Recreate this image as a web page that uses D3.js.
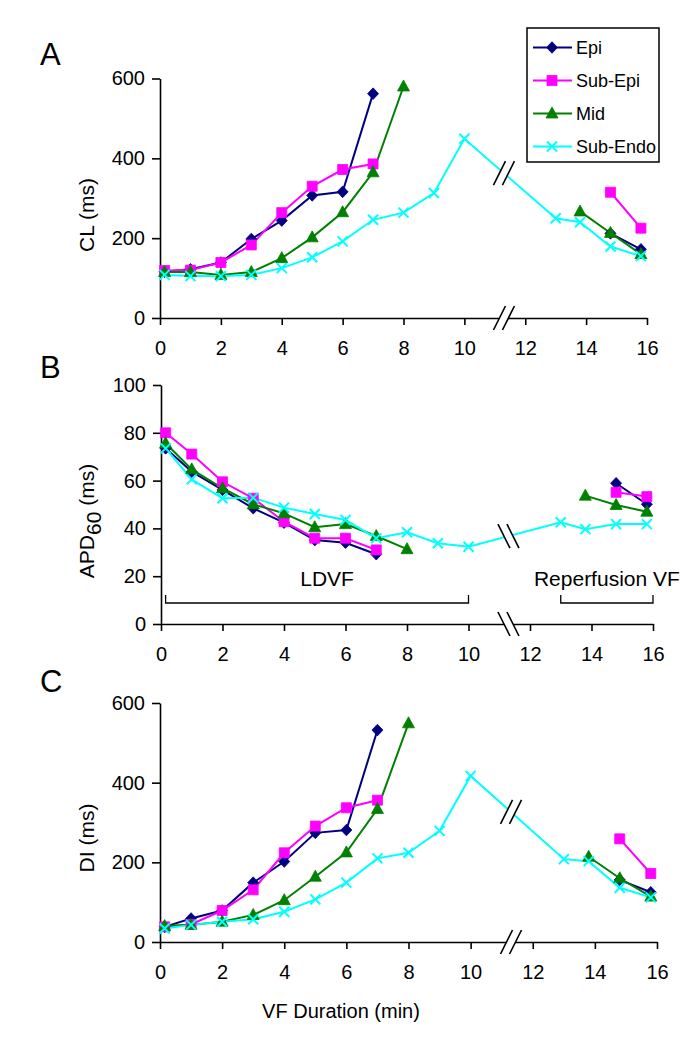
<!DOCTYPE html>
<html>
<head>
<meta charset="utf-8">
<script src="https://cdn.jsdelivr.net/npm/d3@7"></script>
<style>
  html, body { margin: 0; padding: 0; background: #fff; }
  svg { display: block; font-family: "Liberation Sans", Arial, sans-serif; }
</style>
</head>
<body>
<svg id="chart" width="698" height="1050"></svg>
<script>
// ---------------- DATA ----------------
const seriesNames = ["Epi", "Sub-Epi", "Mid", "Sub-Endo"];
const minutes = [0.15, 1, 2, 3, 4, 5, 6, 7, 8, 9, 10, 13, 13.8, 14.8, 15.8];
const xTicks = [0, 2, 4, 6, 8, 10, 12, 14, 16];

// Panel A: CL (ms)
const clEpi     = [116, 122, 139, 198, 244, 307, 316, 562, null, null, null, null, null, 212, 172];
const clSubEpi  = [119, 120, 139, 183, 264, 330, 372, 386, null, null, null, null, null, 315, 225];
const clMid     = [115, 115, 108, 115, 150, 202, 265, 365, 580, null, null, null, 267, 213, 160];
const clSubEndo = [108, 105, 105, 108, 125, 152, 192, 246, 264, 313, 449, 250, 240, 179, 155];
const clTicks = [0, 200, 400, 600];

// Panel B: APD60 (ms)
const apdEpi     = [73.5, 63.7, 56.1, 48.4, 42.4, 35.1, 34.0, 29.2, null, null, null, null, null, 58.9, 50.1];
const apdSubEpi  = [80.0, 71.1, 59.5, 52.6, 42.8, 35.9, 35.9, 31.0, null, null, null, null, null, 55.1, 53.3];
const apdMid     = [75.6, 64.7, 56.8, 50.1, 46.3, 40.5, 41.8, 36.8, 31.3, null, null, null, 53.7, 49.8, 47.0];
const apdSubEndo = [73.5, 60.5, 52.6, 52.8, 48.7, 46.0, 43.5, 35.9, 38.4, 33.8, 32.3, 42.6, 39.7, 41.8, 41.8];
const apdTicks = [0, 20, 40, 60, 80, 100];

// Panel C: DI (ms)
const diEpi     = [38, 59, 79, 149, 202, 274, 281, 532, null, null, null, null, null, 156, 125];
const diSubEpi  = [38, 44, 79, 131, 224, 291, 337, 356, null, null, null, null, null, 259, 172];
const diMid     = [40, 43, 51, 68, 105, 164, 225, 334, 549, null, null, null, 214, 160, 114];
const diSubEndo = [34, 43, 51, 57, 76, 107, 149, 210, 224, 279, 417, 208, 203, 136, 112];
const diTicks = [0, 200, 400, 600];

// Phase annotations (panel B)
const phaseLabels = ["LDVF", "Reperfusion VF"];
const phaseStart = [0.15, 13];
const phaseEnd = [10, 16];
const breakAt = 11.3;

// ---------------- STYLE / LAYOUT ----------------
const colors = ["#000080", "#FF00FF", "#008000", "#00FFFF"];
const markers = ["diamond", "square", "triangle", "cross"];
const FONT = "\"Liberation Sans\", Arial, sans-serif";

const panels = [
  { letter: "A", letterY: 65, x0: 160, x1: 647, yTop: 78.5, yBot: 318, yMax: 600, ticks: clTicks,
    title: ["CL (ms)"], titleY: 215, series: [clEpi, clSubEpi, clMid, clSubEndo], slant: 1 },
  { letter: "B", letterY: 378, x0: 161, x1: 653, yTop: 385, yBot: 624, yMax: 100, ticks: apdTicks,
    title: ["APD", "60", " (ms)"], titleY: 521, series: [apdEpi, apdSubEpi, apdMid, apdSubEndo], slant: -1 },
  { letter: "C", letterY: 692, x0: 160, x1: 657, yTop: 703, yBot: 942, yMax: 600, ticks: diTicks,
    title: ["DI (ms)"], titleY: 838, series: [diEpi, diSubEpi, diMid, diSubEndo], slant: 1 }
];

const svg = d3.select("#chart");

function markerPath(type) {
  const p = d3.path();
  if (type === "diamond") {
    p.moveTo(0, -5.8); p.lineTo(5.5, 0); p.lineTo(0, 5.8); p.lineTo(-5.5, 0); p.closePath();
  } else if (type === "square") {
    p.rect(-5, -5, 10, 10);
  } else if (type === "triangle") {
    p.moveTo(0, -6.5); p.lineTo(6, 4.5); p.lineTo(-6, 4.5); p.closePath();
  } else {
    p.moveTo(-5, -5); p.lineTo(5, 5); p.moveTo(-5, 5); p.lineTo(5, -5);
  }
  return p.toString();
}

function drawMarker(g, type, color, x, y) {
  const m = g.append("path").attr("d", markerPath(type)).attr("transform", `translate(${x},${y})`);
  if (type === "cross") m.attr("fill", "none").attr("stroke", color).attr("stroke-width", 2);
  else m.attr("fill", color).attr("stroke", color).attr("stroke-width", 0.8);
}

function drawBreak(g, cx, cy, slant) {
  const dx = 6, dy = 12, off = 4.5;
  const s = slant;
  g.append("path")
    .attr("d", `M${cx - off - s * dx},${cy + dy} L${cx - off + s * dx},${cy - dy} L${cx + off + s * dx},${cy - dy} L${cx + off - s * dx},${cy + dy} Z`)
    .attr("fill", "#fff");
  [-off, off].forEach(o => {
    g.append("line")
      .attr("x1", cx + o - s * dx).attr("y1", cy + dy)
      .attr("x2", cx + o + s * dx).attr("y2", cy - dy)
      .attr("stroke", "#000").attr("stroke-width", 1.6);
  });
}

panels.forEach((P) => {
  const x = d3.scaleLinear().domain([0, 16]).range([P.x0, P.x1]);
  const y = d3.scaleLinear().domain([0, P.yMax]).range([P.yBot, P.yTop]);
  const g = svg.append("g");

  g.append("text").attr("x", 40).attr("y", P.letterY)
    .attr("font-size", 31).attr("font-family", FONT).text(P.letter);

  const xAxis = d3.axisBottom(x).tickValues(xTicks).tickSize(7).tickSizeOuter(0).tickPadding(16)
    .tickFormat(d3.format("d"));
  const yAxis = d3.axisLeft(y).tickValues(P.ticks).tickSize(8).tickSizeOuter(0).tickPadding(7)
    .tickFormat(d3.format("d"));

  const gx = g.append("g").attr("transform", `translate(0,${P.yBot})`).call(xAxis);
  const gy = g.append("g").attr("transform", `translate(${P.x0},0)`).call(yAxis);
  [gx, gy].forEach(a => {
    a.selectAll("path, line").attr("stroke", "#000").attr("stroke-width", 1.6);
    a.selectAll("text").attr("font-size", 20).attr("font-family", FONT).attr("fill", "#000");
  });

  const tt = g.append("text")
    .attr("transform", `translate(94,${P.titleY}) rotate(-90)`)
    .attr("text-anchor", "middle").attr("font-size", 21).attr("font-family", FONT);
  if (P.title.length === 1) {
    tt.text(P.title[0]);
  } else {
    tt.append("tspan").text(P.title[0]);
    tt.append("tspan").attr("dy", 7).text(P.title[1]);
    tt.append("tspan").attr("dy", -7).text(P.title[2]);
  }

  const line = d3.line()
    .defined(d => d[1] !== null)
    .x(d => x(d[0])).y(d => y(d[1]));
  P.series.forEach((vals, si) => {
    const pts = minutes.map((m, i) => [m, vals[i]]);
    g.append("path").datum(pts).attr("d", line)
      .attr("fill", "none").attr("stroke", colors[si]).attr("stroke-width", 2);
  });
  P.series.forEach((vals, si) => {
    minutes.forEach((m, i) => {
      if (vals[i] !== null) drawMarker(g, markers[si], colors[si], x(m), y(vals[i]));
    });
  });

  drawBreak(g, x(breakAt), P.yBot, P.slant);
  const se = P.series[3];
  const i0 = minutes.indexOf(10), i1 = minutes.indexOf(13);
  const t = (breakAt - 10) / (13 - 10);
  const vBreak = se[i0] + t * (se[i1] - se[i0]);
  drawBreak(g, x(breakAt), y(vBreak), P.slant);

  if (P.letter === "B") {
    phaseLabels.forEach((lab, k) => {
      const xa = x(phaseStart[k]), xb = x(phaseEnd[k]);
      const yb = P.yBot - 21, yt = P.yBot - 29;
      g.append("path")
        .attr("d", `M${xa},${yt} L${xa},${yb} L${xb},${yb} L${xb},${yt}`)
        .attr("fill", "none").attr("stroke", "#000").attr("stroke-width", 1.3);
      const cx = k === 0 ? x(5.4) : x(14.5);
      g.append("text").attr("x", cx).attr("y", P.yBot - 38)
        .attr("text-anchor", "middle").attr("font-size", 21).attr("font-family", FONT).text(lab);
    });
  }
});

svg.append("text").attr("x", 341).attr("y", 1018).attr("text-anchor", "middle")
  .attr("font-size", 20).attr("font-family", FONT).text("VF Duration (min)");

const lg = svg.append("g");
lg.append("rect").attr("x", 527).attr("y", 28).attr("width", 132).attr("height", 134)
  .attr("fill", "#fff").attr("stroke", "#000").attr("stroke-width", 1.5);
const legendY = d3.scalePoint().domain(seriesNames).range([47.5, 146.5]);
seriesNames.forEach((name, si) => {
  const ly = legendY(name);
  lg.append("line").attr("x1", 533).attr("x2", 572).attr("y1", ly).attr("y2", ly)
    .attr("stroke", colors[si]).attr("stroke-width", 2);
  drawMarker(lg, markers[si], colors[si], 552, ly);
  lg.append("text").attr("x", 576).attr("y", ly).attr("dy", "0.36em")
    .attr("font-size", 18).attr("font-family", FONT).text(name);
});
</script>
</body>
</html>
